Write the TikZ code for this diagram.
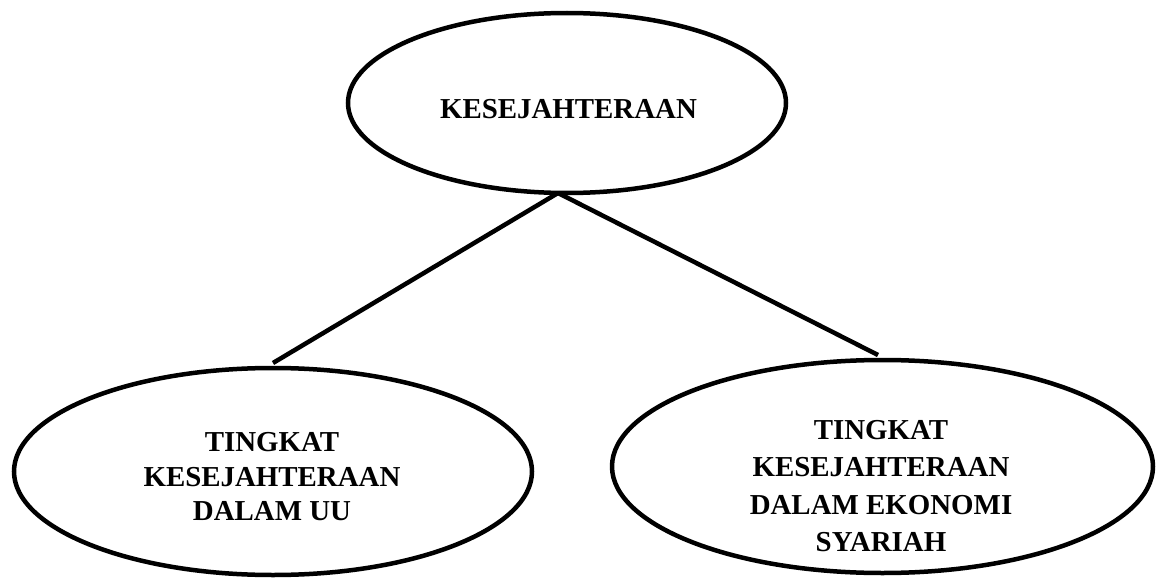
\documentclass[tikz,border=0pt]{standalone}
\usepackage{fontspec}
\setmainfont{Liberation Serif}
\usetikzlibrary{shapes.geometric}
\begin{document}
\begin{tikzpicture}[x=1pt,y=-1pt,
  oval/.style={draw=black, line width=4.5pt, ellipse, inner sep=0pt, outer sep=0pt},
  lbl/.style={align=center, inner sep=0pt, font=\bfseries\fontsize{28.9}{34.5}\selectfont},
  lbltall/.style={align=center, inner sep=0pt, font=\bfseries\fontsize{28.9}{37.3}\selectfont},
  link/.style={draw=black, line width=4.5pt}]
\useasboundingbox (0,0) rectangle (1163,578);
\node[oval, minimum width=438pt, minimum height=180pt] (top) at (567,103) {};
\node[oval, minimum width=518pt, minimum height=207pt] (left) at (273,471.5) {};
\node[oval, minimum width=541pt, minimum height=213pt] (right) at (882.5,466.5) {};
\node[lbl] (toptext) at (568.5,109) {KESEJAHTERAAN};
\node[lbl] (lefttext) at (272,477) {TINGKAT\\KESEJAHTERAAN\\DALAM UU};
\node[lbltall] (righttext) at (881,486) {TINGKAT\\KESEJAHTERAAN\\DALAM EKONOMI\\SYARIAH};
\draw[link] ([xshift=-9pt]top.south) -- ([yshift=5pt]left.north);
\draw[link] ([xshift=-9pt]top.south) -- ([shift={(-4.5pt,5pt)}]right.north);
\end{tikzpicture}
\end{document}
